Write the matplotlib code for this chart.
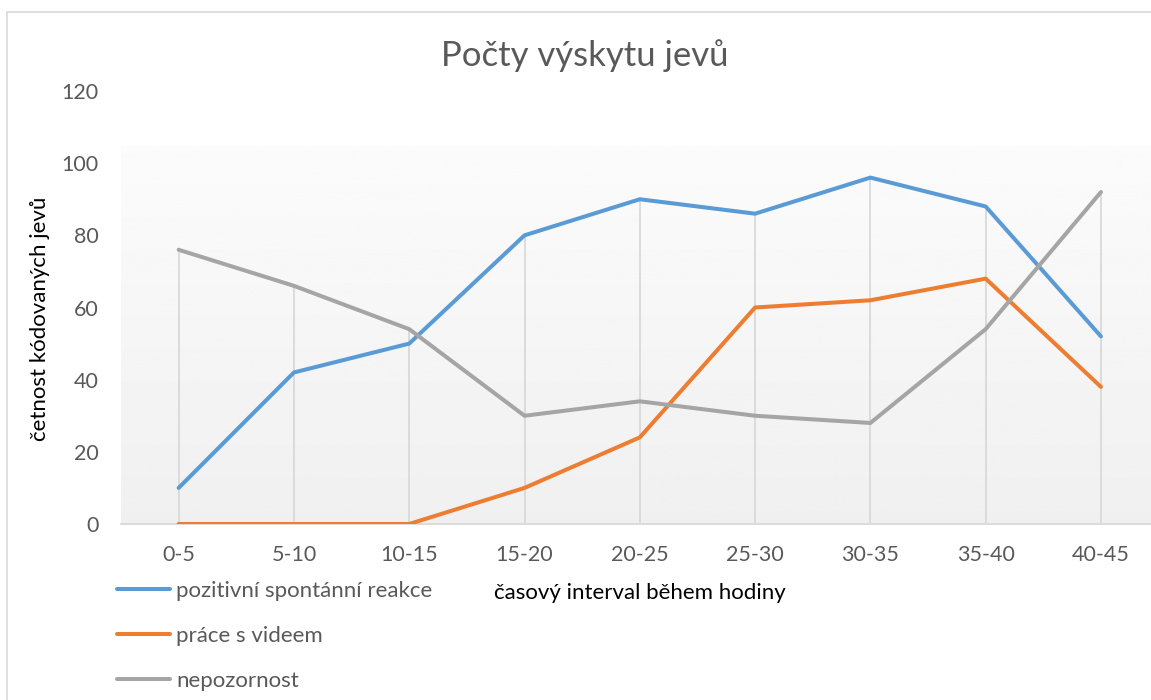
import matplotlib
matplotlib.use("Agg")
import matplotlib.pyplot as plt
import matplotlib.patches as mpatches
import numpy as np

# data
intervals = ["0-5", "5-10", "10-15", "15-20", "20-25", "25-30", "30-35", "35-40", "40-45"]
pozitivni = [10, 42, 50, 80, 90, 86, 96, 88, 52]
prace_video = [0, 0, 0, 10, 24, 60, 62, 68, 38]
nepozornost = [76, 66, 54, 30, 34, 30, 28, 54, 92]
y_ticks = [0, 20, 40, 60, 80, 100, 120]

series = [
    ("pozitivní spontánní reakce", pozitivni, "#5B9BD5"),
    ("práce s videem", prace_video, "#ED7D31"),
    ("nepozornost", nepozornost, "#A5A5A5"),
]

plt.rcParams["font.family"] = ["Lato", "DejaVu Sans"]
W, H = 1151, 700
fig = plt.figure(figsize=(W / 100, H / 100), dpi=100)

# plot area in pixels (it runs past the right edge, as in the reference)
left, right, top, bottom = 121, 1158.6, 91, 524
ax = fig.add_axes([left / W, 1 - bottom / H, (right - left) / W, (bottom - top) / H])
ax.set_xlim(-0.5, len(intervals) - 0.5)
ax.set_ylim(0, 120)
ax.patch.set_alpha(0)

# soft gradient behind the plot
grad = np.linspace(0.94, 0.985, 256).reshape(-1, 1)
ax.imshow(grad, extent=[-0.5, len(intervals) - 0.5, 0, 104.5], origin="lower",
          cmap="gray", vmin=0, vmax=1, aspect="auto", zorder=0)

x = np.arange(len(intervals))

# drop lines from the highest point down to the axis
tops = np.max([pozitivni, prace_video, nepozornost], axis=0)
ax.vlines(x, 0, tops, color="#D9D9D9", linewidth=1.3, zorder=1)

for name, vals, col in series:
    ax.plot(x, vals, color=col, linewidth=2.9, solid_capstyle="round",
            solid_joinstyle="round", label=name, zorder=3)

for s in ["left", "right", "top"]:
    ax.spines[s].set_visible(False)
ax.spines["bottom"].set_color("#D9D9D9")
ax.spines["bottom"].set_linewidth(1.3)

ax.set_xticks(x)
ax.set_xticklabels(intervals)
ax.set_yticks(y_ticks)
ax.tick_params(axis="both", length=0, labelsize=15.5, labelcolor="#595959")
ax.tick_params(axis="y", pad=16)
ax.tick_params(axis="x", pad=15)

fig.text(585 / W, 1 - 56 / H, "Počty výskytu jevů", fontsize=25, color="#595959",
         ha="center", va="center")
fig.text(40 / W, 1 - 319 / H, "četnost kódovaných jevů", fontsize=16, color="black",
         rotation=90, ha="center", va="center")
fig.text(640 / W, 1 - 593 / H, "časový interval během hodiny", fontsize=16,
         color="black", ha="center", va="center")

leg = fig.legend(loc="upper left", bbox_to_anchor=(117 / W, 1 - 581 / H),
                 frameon=False, fontsize=16, labelspacing=1.12, handlelength=2.4,
                 handletextpad=0.25, borderaxespad=0, borderpad=0)
for t in leg.get_texts():
    t.set_color("#595959")

# outer chart border (cropped at right and bottom)
fig.patches.append(mpatches.Rectangle((7.5 / W, -0.1), 1.2, (H - 11.5) / H + 0.1,
                                      transform=fig.transFigure, fill=False,
                                      edgecolor="#D9D9D9", linewidth=1.2))

fig.savefig("out.png", dpi=100)
